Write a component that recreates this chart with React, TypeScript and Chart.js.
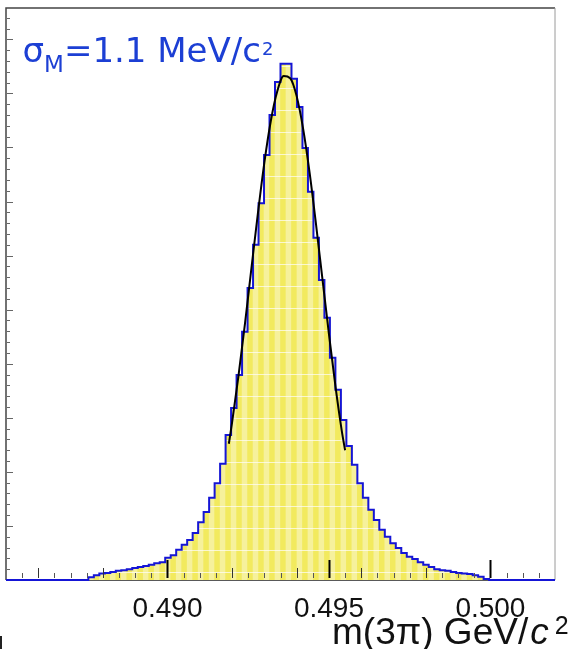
import React, { useEffect, useRef } from 'react';
import { Chart, registerables } from 'chart.js';

Chart.register(...registerables);

// Histogram range and bin contents (100 bins)
const HIST_MIN = 0.485;
const HIST_MAX = 0.502;
const BIN_COUNTS = [
  0, 0, 0, 0, 0, 0, 0, 0, 0, 0,
  0, 0, 0, 0, 0, 5, 9, 12, 13, 15,
  17, 18, 20, 22, 24, 26, 28, 31, 33, 41,
  46, 56, 65, 74, 87, 107, 126, 152, 179, 215,
  268, 318, 379, 459, 540, 620, 697, 786, 860, 921,
  955, 955, 927, 875, 799, 718, 633, 555, 485, 411,
  352, 296, 248, 213, 179, 152, 130, 111, 93, 80,
  68, 59, 50, 43, 39, 33, 28, 24, 20, 18,
  17, 15, 13, 12, 11, 9, 6, 2, 0, 0,
  0, 0, 0, 0, 0, 0, 0, 0, 0, 0,
];

// Fitted curve
const FIT_X = [
  0.4919, 0.4920, 0.4922, 0.4924, 0.4926, 0.4928, 0.4930, 0.4932, 0.4934, 0.4936,
  0.4938, 0.4940, 0.4942, 0.4944, 0.4946, 0.4948, 0.4950, 0.4952, 0.4954, 0.4955,
];
const FIT_Y = [
  252, 291, 378, 474, 577, 678, 772, 849, 904, 932,
  928, 895, 835, 754, 658, 556, 455, 359, 275, 240,
];

const Y_MAX = 1058;

// Axis tick labels
const X_TICK_VALUES = [0.49, 0.495, 0.5];
const X_TICK_LABELS = ['0.490', '0.495', '0.500'];

// Texts
const TITLE_SIGMA = 'σ';
const TITLE_SUB = 'M';
const TITLE_MAIN = '=1.1 MeV/c';
const TITLE_SUP = '2';
const XTITLE_MAIN = 'm(3π) GeV/';
const XTITLE_ITALIC = 'c';
const XTITLE_SUP = '2';

function makePattern(base: string, line: string): CanvasPattern | string {
  const tile = document.createElement('canvas');
  tile.width = 2;
  tile.height = 22;
  const c = tile.getContext('2d');
  if (!c) return base;
  c.fillStyle = base;
  c.fillRect(0, 0, 2, 22);
  c.fillStyle = line;
  c.fillRect(0, 0, 2, 1);
  const p = c.createPattern(tile, 'repeat');
  return p || base;
}

const decorPlugin = {
  id: 'decor',
  beforeDraw(chart: any) {
    const { ctx, width, height } = chart;
    ctx.save();
    ctx.fillStyle = '#ffffff';
    ctx.fillRect(0, 0, width, height);
    ctx.restore();
  },
  beforeDatasetsDraw(chart: any) {
    const { ctx, chartArea } = chart;
    const { left, right, top, bottom } = chartArea;
    ctx.save();
    ctx.strokeStyle = '#444';
    ctx.lineWidth = 1.5;
    ctx.beginPath();
    ctx.moveTo(left, bottom);
    ctx.lineTo(left, top);
    ctx.lineTo(right, top);
    ctx.stroke();
    ctx.strokeStyle = '#9a9a9a';
    ctx.lineWidth = 1;
    ctx.beginPath();
    ctx.moveTo(right, top);
    ctx.lineTo(right, bottom);
    ctx.stroke();
    ctx.strokeStyle = '#222';
    ctx.lineWidth = 1.5;
    ctx.beginPath();
    ctx.moveTo(left, bottom);
    ctx.lineTo(right, bottom);
    ctx.stroke();
    ctx.restore();
  },
  afterDatasetsDraw(chart: any) {
    const { ctx, chartArea } = chart;
    const { left, bottom } = chartArea;
    const xs = chart.scales.x;
    const ys = chart.scales.y;
    ctx.save();
    const kMin = Math.round(HIST_MIN * 2000);
    const kMax = Math.round(HIST_MAX * 2000);
    for (let k = kMin + 1; k < kMax; k++) {
      const v = k / 2000;
      const px = Math.round(xs.getPixelForValue(v)) + 0.5;
      let len = 5;
      let col = '#555';
      let lw = 1;
      if (k % 10 === 0) {
        len = 18;
        col = '#000';
        lw = 2;
      } else if (k % 4 === 0) {
        len = 10;
        col = '#333';
      }
      ctx.strokeStyle = col;
      ctx.lineWidth = lw;
      ctx.beginPath();
      ctx.moveTo(px, bottom - 2);
      ctx.lineTo(px, bottom - 2 - len);
      ctx.stroke();
    }
    for (let v = 20; v < Y_MAX; v += 20) {
      const py = Math.round(ys.getPixelForValue(v)) + 0.5;
      const len = v % 100 === 0 ? 6 : 3;
      ctx.strokeStyle = '#666';
      ctx.lineWidth = 1;
      ctx.beginPath();
      ctx.moveTo(left + 1, py);
      ctx.lineTo(left + 1 + len, py);
      ctx.stroke();
    }
    ctx.restore();

    ctx.save();
    ctx.fillStyle = '#1c3fd4';
    ctx.textBaseline = 'alphabetic';
    ctx.textAlign = 'left';
    let x = 22.5;
    ctx.font = '34px "DejaVu Sans"';
    ctx.fillText(TITLE_SIGMA, x, 62);
    x += ctx.measureText(TITLE_SIGMA).width;
    ctx.font = '23px "DejaVu Sans"';
    ctx.fillText(TITLE_SUB, x, 72);
    x += ctx.measureText(TITLE_SUB).width;
    ctx.font = '34px "DejaVu Sans"';
    ctx.fillText(TITLE_MAIN, x, 62);
    x += ctx.measureText(TITLE_MAIN).width;
    ctx.font = '18px "DejaVu Sans"';
    ctx.fillText(TITLE_SUP, x + 1, 55);
    ctx.restore();

    ctx.save();
    ctx.fillStyle = '#111';
    ctx.textBaseline = 'alphabetic';
    ctx.textAlign = 'left';
    let tx = 332;
    ctx.font = '37px "Liberation Sans"';
    ctx.fillText(XTITLE_MAIN, tx, 644);
    tx += ctx.measureText(XTITLE_MAIN).width + 2;
    ctx.font = 'italic 37px "Liberation Sans"';
    ctx.fillText(XTITLE_ITALIC, tx, 644);
    tx += ctx.measureText(XTITLE_ITALIC).width + 6;
    ctx.font = '25px "Liberation Sans"';
    ctx.fillText(XTITLE_SUP, tx, 634);
    ctx.fillStyle = '#222';
    ctx.fillRect(0, 636, 2, 13);
    ctx.restore();
  },
};

export default function App() {
  const canvasRef = useRef<HTMLCanvasElement | null>(null);

  useEffect(() => {
    document.body.style.margin = '0';
    const canvas = canvasRef.current;
    if (!canvas) return;

    const width = (HIST_MAX - HIST_MIN) / BIN_COUNTS.length;
    const barData = BIN_COUNTS.map((v, i) => ({ x: HIST_MIN + (i + 0.5) * width, y: v }));
    const stepData: { x: number; y: number }[] = BIN_COUNTS.map((v, i) => ({
      x: HIST_MIN + i * width,
      y: v,
    }));
    stepData.push({ x: HIST_MAX, y: BIN_COUNTS[BIN_COUNTS.length - 1] });
    const fitData = FIT_X.map((x, i) => ({ x, y: FIT_Y[i] }));

    const patA = makePattern('#f2ea5e', '#faf7cf');
    const patB = makePattern('#f6f19c', '#fcfadf');

    const chart = new Chart(canvas, {
      type: 'bar',
      data: {
        datasets: [
          {
            type: 'line',
            label: 'fit',
            data: fitData,
            borderColor: '#000000',
            borderWidth: 2,
            pointRadius: 0,
            fill: false,
            cubicInterpolationMode: 'monotone',
            order: 1,
          } as any,
          {
            type: 'line',
            label: 'outline',
            data: stepData,
            borderColor: '#1515d6',
            borderWidth: 2,
            pointRadius: 0,
            fill: false,
            stepped: 'before',
            clip: false,
            order: 2,
          } as any,
          {
            type: 'bar',
            label: 'hist',
            data: barData,
            backgroundColor: (c: any) => (c.dataIndex % 2 === 0 ? patA : patB),
            borderWidth: 0,
            barPercentage: 1,
            categoryPercentage: 1,
            order: 3,
          } as any,
        ],
      },
      options: {
        responsive: false,
        animation: false,
        events: [],
        layout: { padding: { left: 6, right: 15, top: 8, bottom: 0 } },
        plugins: {
          legend: { display: false },
          tooltip: { enabled: false },
          title: { display: false },
        },
        scales: {
          x: {
            type: 'linear',
            offset: false,
            min: HIST_MIN,
            max: HIST_MAX,
            afterBuildTicks: (s: any) => {
              s.ticks = X_TICK_VALUES.map((v) => ({ value: v }));
            },
            afterFit: (s: any) => {
              s.height = 69;
            },
            ticks: {
              autoSkip: false,
              maxRotation: 0,
              minRotation: 0,
              padding: 12,
              color: '#111',
              font: { family: 'Liberation Sans', size: 28 },
              callback: (v: any) => {
                const idx = X_TICK_VALUES.findIndex((t) => Math.abs(t - Number(v)) < 1e-7);
                return idx >= 0 ? X_TICK_LABELS[idx] : '';
              },
            },
            grid: { display: false, drawTicks: false, offset: false },
            border: { display: false },
          },
          y: {
            type: 'linear',
            min: 0,
            max: Y_MAX,
            display: false,
          },
        },
      } as any,
      plugins: [decorPlugin],
    });

    return () => {
      chart.destroy();
    };
  }, []);

  return (
    <div style={{ position: 'fixed', left: 0, top: 0, width: 570, height: 649, background: '#fff' }}>
      <canvas ref={canvasRef} width={570} height={649} style={{ display: 'block' }} />
    </div>
  );
}
